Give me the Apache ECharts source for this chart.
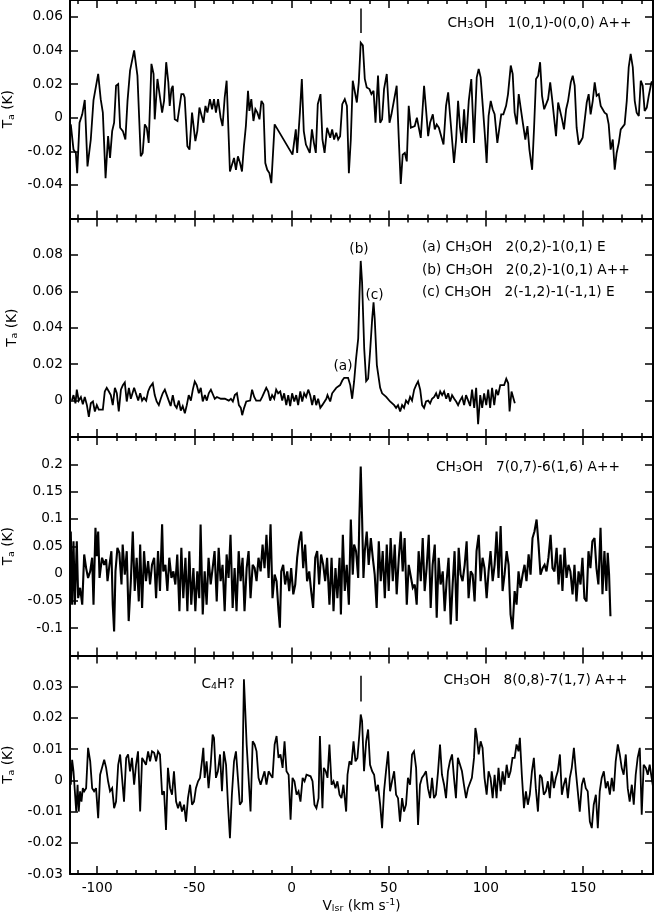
<!DOCTYPE html>
<html>
<head>
<meta charset="utf-8">
<script src="https://cdn.jsdelivr.net/npm/echarts@6.0.0/dist/echarts.min.js"></script>
<style>
html,body{margin:0;padding:0;background:#fff;}
#chart{width:654px;height:918px;}
</style>
</head>
<body>
<div id="chart"></div>
<script>
// ---------------- DATA ----------------
// Panel 1: CH3OH 1(0,1)-0(0,0) A++
const v1 = [-113.6,-112.2,-111.0,-110.3,-109.1,-107.7,-106.4,-105.0,-103.3,-101.9,-100.9,-99.5,-98.2,-97.1,-95.7,-94.4,-93.4,-92.3,-91.3,-90.3,
-89.2,-88.2,-86.8,-85.5,-84.4,-83.1,-82.1,-81.0,-80.3,-79.3,-77.6,-76.6,-75.5,-74.5,-73.5,-72.1,-71.0,-70.4,-69.0,-68.0,
-66.6,-65.6,-64.5,-63.4,-62.7,-61.8,-61.1,-60.1,-58.7,-57.7,-56.7,-55.6,-55.0,-53.6,-52.5,-51.2,-50.2,-49.5,-48.5,-47.4,
-46.4,-45.3,-44.3,-43.3,-42.0,-40.9,-39.9,-38.9,-37.8,-36.5,-35.5,-34.4,-33.4,-32.3,-31.7,-30.7,-29.6,-28.6,-27.6,-26.5,
-25.5,-24.5,-23.5,-22.4,-21.7,-20.7,-19.6,-18.6,-17.6,-16.5,-15.5,-14.5,-13.5,-12.5,-11.4,-10.4,-9.7,-8.7,0.5,1.5,
2.2,2.9,4.3,5.3,6.3,7.4,8.4,9.4,10.5,11.5,12.5,13.5,14.9,15.9,17.0,18.3,19.9,20.9,21.9,23.0,
24.0,25.0,26.1,27.4,28.5,29.5,30.5,31.5,32.2,33.6,34.6,35.6,36.7,37.7,38.7,40.1,41.1,42.2,43.2,44.5,
45.6,46.6,47.6,49.0,50.4,51.4,52.4,54.1,55.2,56.2,57.2,58.3,59.3,60.3,61.4,62.4,63.4,64.5,65.5,66.5,
68.2,69.2,70.3,71.3,72.7,73.7,74.7,75.8,76.8,78.2,79.5,80.6,81.6,82.6,83.6,84.7,85.7,86.7,87.7,88.8,
89.8,91.2,92.5,93.9,95.3,96.3,97.3,98.4,99.4,100.4,101.4,102.5,103.5,104.5,105.9,106.9,107.9,109.0,110.4,111.4,
112.8,113.8,114.8,115.9,116.9,117.9,119.0,120.3,121.4,122.4,123.8,124.8,125.8,126.9,127.9,128.9,130.0,131.0,132.0,133.1,
134.1,135.1,136.1,137.2,138.2,139.2,140.2,141.3,142.3,143.7,144.7,145.7,146.7,147.8,148.8,149.8,150.8,151.9,152.9,153.9,
155.0,156.0,157.0,158.1,159.1,160.1,161.1,162.2,163.2,164.2,165.3,166.3,167.3,168.4,169.4,170.4,171.4,172.5,173.5,174.5,
175.6,176.6,177.6,178.7,179.7,180.7,181.7,182.8,183.8,185.2,186.5];
const t1 = [-0.004,-0.019,-0.021,-0.033,-0.003,0.002,0.0105,-0.029,-0.013,0.0105,0.010,0.026,0.011,0.003,-0.036,-0.011,-0.024,-0.008,-0.003,0.019,
0.020,-0.006,-0.008,-0.013,0.010,0.028,0.028,0.040,0.039,0.025,-0.023,-0.021,-0.004,-0.006,-0.015,0.032,0.026,-0.001,0.023,0.022,
0.003,0.010,0.033,0.021,0.007,0.017,0.019,-0.001,-0.002,-0.003,0.014,0.014,0.012,-0.017,-0.019,0.003,0.004,-0.014,-0.008,0.006,
0.005,-0.003,0.007,0.003,0.011,0.005,0.011,0.003,0.011,0.000,-0.005,0.012,0.022,-0.013,-0.032,-0.033,-0.024,-0.031,-0.023,-0.027,
-0.032,-0.017,-0.005,0.016,0.004,0.011,-0.002,0.005,0.003,-0.001,0.010,0.008,-0.027,-0.031,-0.033,-0.039,-0.040,-0.004,-0.022,-0.023,
-0.007,-0.021,0.003,0.023,-0.008,-0.016,-0.017,-0.021,-0.007,-0.015,-0.021,0.008,0.014,-0.013,-0.021,-0.006,-0.012,-0.007,-0.013,-0.009,
-0.013,-0.011,0.008,0.011,0.007,-0.033,-0.013,0.022,0.021,0.009,0.021,0.0446,0.043,0.023,0.018,0.017,0.014,0.016,-0.003,0.025,
-0.003,-0.001,0.017,0.026,-0.003,0.002,0.001,0.019,-0.013,-0.0395,-0.022,-0.021,-0.026,0.007,-0.006,-0.007,-0.005,0.000,0.001,-0.012,
0.019,0.005,-0.011,-0.003,0.002,-0.007,-0.004,-0.006,-0.005,-0.016,0.007,0.015,0.001,-0.013,-0.027,-0.013,0.010,-0.006,-0.015,0.005,
-0.015,0.010,0.023,-0.015,0.024,0.029,0.024,0.007,-0.009,-0.027,0.001,0.010,0.005,0.002,-0.015,-0.016,0.002,0.002,0.007,0.014,
0.031,0.026,0.003,-0.004,0.014,0.013,-0.003,-0.013,-0.005,-0.019,-0.031,-0.006,0.023,0.025,0.033,0.013,0.005,0.005,0.011,0.021,
0.011,0.011,-0.011,0.009,0.010,-0.001,-0.007,0.005,0.010,0.021,0.025,0.019,-0.006,-0.016,-0.014,-0.012,-0.011,0.009,0.014,0.002,
0.010,0.021,0.013,0.014,0.007,0.005,0.003,0.002,-0.004,-0.019,-0.013,-0.031,-0.021,-0.015,-0.007,-0.006,-0.004,0.010,0.030,0.038,
0.030,0.010,0.003,0.001,0.022,0.019,0.004,0.006,0.013,0.021,0.022];

// Panel 2: CH3OH 2(0,2)-1(0,1) E / A++ / 2(-1,2)-1(-1,1) E
const v2 = [-113.0,-112.2,-111.2,-110.5,-109.5,-108.4,-107.4,-106.4,-105.3,-104.3,-103.3,-102.2,-101.2,-100.2,-99.2,-98.2,-97.1,-96.1,-95.1,-94.0,
-93.0,-92.0,-90.9,-89.9,-88.9,-87.8,-86.8,-85.8,-84.8,-83.7,-82.7,-81.7,-81.0,-80.0,-78.9,-77.9,-76.9,-75.9,-74.8,-73.8,
-72.8,-71.4,-70.4,-69.4,-68.3,-67.3,-66.3,-65.2,-64.2,-63.2,-62.2,-61.1,-60.1,-59.1,-58.0,-57.0,-56.0,-54.9,-53.9,-52.9,
-51.8,-50.8,-49.8,-48.8,-47.7,-46.7,-45.7,-44.6,-43.6,-42.6,-41.5,-40.5,-39.5,-38.4,-37.4,-36.4,-35.4,-34.3,-33.3,-32.3,
-31.2,-30.2,-29.2,-28.1,-27.1,-26.1,-25.4,-24.4,-23.3,-22.3,-21.3,-20.3,-19.2,-18.2,-17.2,-16.1,-15.1,-14.1,-13.0,-12.0,
-11.0,-10.0,-8.9,-7.9,-6.9,-5.8,-4.8,-3.8,-2.7,-1.7,-0.7,0.3,1.4,2.4,3.4,4.5,5.5,6.5,7.5,8.6,
9.6,10.6,11.7,12.7,13.7,14.8,15.8,16.8,17.9,
18.5,19.9,20.9,21.9,23.0,24.0,25.0,26.1,27.1,28.1,29.1,30.2,31.2,32.2,33.2,34.3,35.0,35.6,36.3,37.4,
38.4,39.4,40.4,41.5,42.2,42.8,43.9,44.9,45.6,46.6,47.6,48.7,49.7,50.7,51.7,52.8,53.8,54.8,55.9,56.9,
57.9,58.9,60.0,61.0,62.0,63.1,64.1,65.1,66.2,67.2,68.2,69.2,70.3,71.3,72.3,73.4,74.4,75.4,76.5,77.5,
78.5,79.6,80.6,81.6,82.6,83.7,84.7,85.7,86.7,87.8,88.8,89.8,90.9,91.9,92.9,94.0,95.0,96.0,97.1,98.1,
99.1,100.2,101.2,102.2,103.2,104.3,105.3,106.3,107.4,108.4,109.4,110.5,111.5,112.2,113.2,114.2,114.9];
const t2 = [0,0.003,-0.0015,0.006,0,0.002,-0.002,0.002,-0.0025,-0.009,-0.0015,-0.0005,-0.006,-0.0025,-0.005,-0.004,-0.005,0.005,0.007,0.005,
0.003,-0.0025,0.007,0.004,-0.006,0.006,0.0085,0.01,-0.0005,0.007,0.001,0,0.007,0.006,0,0.004,0,0.0015,0,0.005,
0.0075,0.0095,0.003,-0.0005,-0.0025,0.001,0.004,0.006,0.003,0,-0.003,0.003,-0.0025,-0.004,0,-0.0055,-0.003,-0.007,-0.0025,0.003,
0,0.006,0.0105,0.0085,0.004,0.007,-0.0005,0.003,0,0.004,0.006,0.007,0.001,0.002,0.001,0.001,0,0.001,0.002,0,
0.001,-0.0005,0.003,0.004,-0.0025,-0.004,-0.008,-0.004,-0.0005,0,0,0.006,0.002,0,0.001,0,0.002,0.003,0.007,0.005,
0,0.003,0.001,0.006,0.004,0.005,0,0.004,-0.0025,0.003,-0.003,0.004,-0.0005,0.003,-0.0025,0.005,-0.0005,0.004,0.002,0.006,
0.003,-0.0025,0.003,-0.0025,0.001,-0.004,-0.0025,-0.003,0.001,
0.003,-0.0005,0.004,0.003,0.007,0.006,0.0085,0.011,0.0125,0.012,0.0125,0.0085,0.001,0.0105,0.023,0.034,0.0595,0.0767,0.065,0.0285,
0.0107,0.012,0.0267,0.045,0.054,0.045,0.0195,0.0185,0.007,0.004,0.005,0.002,0.001,-0.0005,0,-0.0025,-0.004,-0.0025,-0.006,-0.0025,
-0.004,0,-0.0015,0.002,0,0.006,0.0085,0.0105,0.006,-0.0025,-0.004,-0.0005,0,-0.0015,0.001,0.002,0.004,0.001,0.005,0.003,
0.005,0.001,0.004,-0.0005,0.003,0.001,-0.0005,-0.0025,0,0.002,-0.0025,0.003,0,-0.003,0.006,-0.004,0.007,-0.013,0.003,-0.004,
0.004,-0.0025,0.006,-0.004,0.007,-0.0025,0.006,0.003,0.0085,0.0095,0.0085,0.012,0.0095,-0.006,0.005,0.004,-0.0015];

// Panel 3: CH3OH 7(0,7)-6(1,6) A++
const v3 = [-113.6,-112.9,-112.2,-111.5,-110.5,-109.8,-108.8,-107.7,-106.7,-105.7,-104.7,-103.6,-102.6,-101.9,-100.9,-100.2,-99.5,-98.8,-98.2,-97.5,
-96.4,-95.4,-94.7,-93.7,-92.7,-92.0,-91.3,-90.6,-89.6,-88.6,-87.5,-86.9,-85.8,-84.8,-83.8,-82.7,-81.7,-80.7,-79.7,-78.6,
-77.9,-76.9,-75.9,-74.9,-73.8,-72.8,-71.8,-70.7,-69.7,-68.7,-67.7,-66.6,-66.0,-64.9,-63.9,-62.9,-61.8,-60.8,-59.8,-58.8,
-57.7,-56.7,-55.7,-54.6,-53.6,-52.6,-51.6,-50.5,-49.5,-48.5,-47.5,-46.8,-45.7,-44.7,-43.7,-42.7,-41.6,-40.6,-39.6,-38.5,
-37.5,-36.5,-35.5,-34.4,-33.4,-32.4,-31.4,-30.3,-29.3,-28.3,-27.2,-26.2,-25.2,-24.2,-23.1,-22.1,-21.1,-20.0,-19.0,-18.0,
-17.0,-15.9,-14.9,-13.9,-12.9,-11.8,-10.8,-9.8,-8.7,-7.7,-6.7,-6.0,-5.3,-4.3,-3.3,-2.2,-1.2,-0.2,0.9,1.9,
2.9,3.9,5.0,6.0,7.0,8.0,9.1,10.1,11.1,12.2,13.2,14.2,15.2,16.3,17.3,18.3,
19.5,20.6,21.6,22.6,23.6,24.7,25.4,26.4,27.4,28.4,29.5,30.5,31.5,32.2,33.2,34.3,34.9,35.6,36.3,37.0,
37.7,38.7,39.7,40.8,41.8,42.8,43.8,44.9,45.9,46.9,48.0,49.0,50.0,51.0,52.1,53.1,54.1,55.2,56.2,57.2,
58.2,59.3,60.3,61.3,62.4,63.4,64.4,65.4,66.5,67.5,68.5,69.5,70.6,71.6,72.6,73.7,74.7,75.7,76.7,77.8,
78.8,79.8,80.8,81.9,82.9,83.9,85.0,86.0,87.0,88.0,89.1,90.1,91.1,92.2,93.2,94.2,95.2,96.3,97.3,98.3,
99.3,100.4,101.4,102.4,103.5,104.5,105.5,106.5,107.6,108.6,109.6,110.7,111.7,112.7,113.7,114.8,115.8,116.8,117.8,118.9,
119.9,120.9,122.0,123.0,124.0,125.0,126.1,127.1,128.1,129.2,130.2,131.2,132.2,133.3,134.3,135.3,136.4,137.4,138.4,139.4,
140.5,141.5,142.5,143.5,144.6,145.6,146.6,147.7,148.7,149.7,150.7,151.8,152.8,153.8,154.8,155.9,156.9,157.9,159.0,160.0,
161.0,162.0,162.7,163.4,164.1];
const t3 = [0.077,-0.057,0.059,-0.057,0.059,-0.045,-0.026,-0.057,0.035,0.010,-0.008,0.004,0.029,-0.057,0.084,0.032,0.077,-0.008,0.010,0.029,
0.016,0.026,-0.014,0.016,0.041,-0.057,-0.106,0.004,0.047,0.038,-0.020,0.053,-0.002,0.041,-0.087,-0.014,0.077,-0.032,0.029,-0.051,
0.053,-0.063,0.041,-0.014,0.023,-0.020,0.016,0.029,-0.045,0.041,-0.032,0.090,0.004,0.016,-0.032,0.029,-0.008,0.004,-0.020,0.035,
-0.069,0.047,-0.045,0.029,-0.069,0.041,-0.057,0.010,-0.069,0.004,-0.045,0.090,-0.075,0.004,-0.057,0.029,-0.020,0.010,0.041,-0.051,
0.047,-0.014,0.016,-0.069,0.035,-0.008,0.071,-0.063,0.010,-0.069,0.041,-0.014,0.029,-0.069,0.010,0.041,-0.045,0.016,0.010,-0.014,
0.029,0.004,0.053,0.010,0.071,-0.008,0.090,-0.045,-0.002,-0.014,-0.069,-0.099,0.004,0.016,-0.020,0.004,-0.032,0.010,-0.038,-0.020,
0.029,0.059,0.077,0.010,0.053,-0.014,0.004,-0.032,-0.063,0.029,0.041,-0.020,0.035,0.016,-0.014,0.029,
-0.057,0.029,-0.069,0.010,-0.045,0.029,-0.075,0.071,-0.032,0.016,-0.057,0.099,-0.002,0.053,0.041,-0.008,0.102,0.196,0.102,-0.008,
0.041,0.077,0.016,0.065,0.029,-0.002,-0.063,0.059,-0.014,0.041,-0.045,0.053,-0.032,0.065,-0.014,0.053,-0.038,0.029,0.077,0.004,
0.065,-0.057,0.016,0.016,-0.026,-0.020,-0.057,0.041,-0.014,0.065,-0.032,0.010,0.071,-0.063,0.016,0.053,-0.081,0.029,-0.020,0.004,
-0.069,-0.014,0.029,-0.093,-0.020,0.041,-0.087,0.047,-0.002,-0.014,0.016,0.059,-0.045,0.004,-0.002,-0.051,0.041,0.071,-0.014,0.029,
0.010,-0.045,0.004,0.041,-0.014,0.016,0.077,-0.008,0.087,-0.032,-0.002,0.041,0.016,-0.075,-0.102,-0.032,-0.057,0.004,-0.026,-0.002,
0.016,-0.014,0.035,-0.002,0.065,0.077,0.099,0.053,-0.002,0.010,0.016,0.004,0.029,0.071,0.010,0.004,0.047,-0.020,0.035,-0.032,
0.047,-0.008,0.016,0.004,-0.038,0.016,-0.051,0.004,-0.020,0.029,-0.045,-0.051,0.041,0.010,0.059,0.065,0.010,-0.020,0.084,-0.038,
0.041,-0.032,0.038,-0.002,-0.078];

// Panel 4: CH3OH 8(0,8)-7(1,7) A++
const v4 = [-113.6,-112.9,-112.2,-111.5,-110.8,-110.1,-109.5,-108.8,-108.1,-107.4,-106.7,-105.7,-104.7,-103.6,-102.6,-101.6,-100.6,-99.5,-98.5,-97.5,
-96.4,-95.4,-94.4,-93.4,-92.3,-91.3,-90.3,-89.2,-88.2,-87.2,-86.2,-85.1,-84.1,-83.1,-82.1,-81.0,-80.0,-79.0,-77.9,-76.9,
-75.9,-74.9,-73.8,-72.8,-71.8,-70.7,-69.7,-68.7,-67.7,-66.6,-65.6,-64.6,-63.6,-62.5,-61.5,-60.5,-59.4,-58.4,-57.4,-56.4,
-55.3,-54.3,-53.3,-52.2,-51.2,-50.2,-49.2,-48.1,-47.1,-46.1,-45.4,-44.7,-43.7,-42.7,-41.6,-40.6,-39.9,-38.9,-37.9,-36.8,
-35.8,-34.8,-33.7,-32.7,-31.7,-30.7,-29.6,-28.6,-27.6,-26.6,-25.5,-24.5,-23.8,-23.1,-22.1,-21.1,-20.0,-19.0,-18.0,-17.0,
-15.9,-14.9,-13.9,-12.9,-11.8,-10.8,-9.8,-8.7,-7.7,-6.7,-5.7,-4.6,-3.6,-2.6,-1.5,-0.5,0.5,1.5,2.6,3.6,
4.6,5.7,6.7,7.7,8.7,9.8,10.8,11.8,12.8,13.9,14.6,15.2,15.9,16.6,17.6,
18.5,19.5,20.6,21.6,22.6,23.6,24.7,25.7,26.7,28.1,28.8,29.8,30.8,31.9,32.9,33.9,34.9,35.6,36.3,37.3,
38.4,39.4,40.4,41.5,42.5,43.5,44.5,45.6,46.6,47.6,48.6,49.7,50.7,51.7,52.8,53.8,54.8,55.8,56.9,57.9,
58.9,59.9,61.0,62.0,63.0,64.1,65.1,66.1,67.1,68.2,69.2,70.2,71.3,72.3,73.3,74.3,75.4,76.4,77.4,78.5,
79.5,80.5,81.5,82.6,83.6,84.6,85.6,86.7,87.7,88.7,89.8,90.8,91.8,92.8,93.9,94.6,95.2,96.3,97.3,98.3,
99.3,100.4,101.4,102.4,103.5,104.5,105.5,106.5,107.6,108.6,109.6,110.7,111.7,112.7,113.7,114.8,115.8,116.8,117.5,118.5,
119.6,120.6,121.6,122.6,123.7,124.7,125.7,126.8,127.8,128.8,129.8,130.9,131.9,132.9,133.9,135.0,136.0,137.0,138.1,139.1,
140.1,141.1,142.2,143.2,144.2,145.3,146.3,147.3,148.3,149.4,150.4,151.4,152.4,153.5,154.5,155.5,156.6,157.6,158.6,159.6,
160.7,161.7,162.7,163.8,164.8,165.8,166.8,167.9,168.9,169.9,170.9,172.0,173.0,174.0,175.1,176.1,177.1,178.1,179.2,180.2,
181.2,182.3,183.3,184.3,185.3,186.4];
const t4 = [-0.0014,0.0066,0.0029,-0.0035,-0.0100,-0.0014,-0.0100,-0.0035,-0.0068,-0.0025,-0.0035,-0.0025,0.0104,0.0061,-0.0025,-0.0035,-0.0025,-0.0121,0.0018,0.0024,
0.0066,0.0040,-0.0003,-0.0035,-0.0025,-0.0089,-0.0068,0.0050,0.0083,0.0088,-0.0068,0.0072,0.0083,0.0029,0.0072,-0.0014,0.0050,0.0093,-0.0100,0.0072,
0.0061,0.0050,0.0093,0.0061,0.0093,0.0088,0.0061,0.0093,0.0083,-0.0046,-0.0035,-0.0159,0.0040,-0.0025,-0.0046,0.0029,-0.0068,-0.0089,-0.0068,-0.0100,
-0.0078,-0.0132,-0.0057,-0.0014,-0.0078,-0.0068,-0.0025,-0.0003,0.0008,0.0061,0.0104,0.0008,0.0061,-0.0025,0.0050,0.0147,0.0136,0.0008,0.0029,0.0083,
-0.0035,0.0093,0.0050,-0.0078,-0.0185,-0.0046,0.0061,0.0093,0.0008,-0.0078,-0.0068,0.0324,0.0222,0.0115,0.0115,-0.0100,0.0125,0.0115,0.0093,0.0008,
-0.0014,0.0008,0.0029,-0.0014,0.0029,0.0018,0.0008,0.0115,0.0142,0.0072,0.0083,0.0040,0.0125,0.0029,0.0018,-0.0126,0.0008,-0.0003,-0.0046,-0.0035,
-0.0068,0.0008,-0.0003,0.0018,0.0018,0.0013,-0.0003,-0.0078,-0.0089,-0.0057,0.0142,0.0029,-0.0089,0.0040,0.0029,
0.0008,0.0115,-0.0014,-0.0003,-0.0025,-0.0003,-0.0046,-0.0057,-0.0014,-0.0100,0.0018,0.0061,0.0050,0.0125,0.0061,0.0072,0.0147,0.0211,0.0190,0.0029,
0.0125,0.0163,0.0050,0.0029,0.0018,-0.0035,-0.0014,-0.0078,-0.0153,-0.0035,0.0029,0.0093,-0.0035,-0.0003,0.0029,-0.0046,-0.0057,-0.0132,-0.0057,-0.0100,
-0.0078,0.0008,-0.0014,0.0083,0.0093,0.0040,-0.0143,-0.0014,0.0008,0.0018,0.0029,-0.0025,-0.0057,0.0008,-0.0057,-0.0046,0.0029,0.0115,0.0018,-0.0014,
-0.0057,0.0029,0.0061,0.0083,0.0008,-0.0057,0.0072,0.0050,0.0029,-0.0014,-0.0057,-0.0025,-0.0025,0.0008,0.0072,0.0168,0.0147,0.0083,0.0125,0.0104,
0.0008,-0.0046,0.0029,0.0008,-0.0057,0.0018,-0.0057,0.0040,-0.0035,0.0029,-0.0014,0.0050,0.0008,0.0029,0.0072,0.0072,0.0115,0.0093,0.0136,0.0018,
-0.0089,-0.0035,-0.0078,-0.0046,0.0029,0.0072,-0.0025,-0.0100,0.0018,0.0008,-0.0046,-0.0035,-0.0003,-0.0057,0.0029,-0.0025,0.0008,0.0029,0.0083,-0.0046,
-0.0014,0.0008,-0.0057,0.0008,0.0040,0.0104,0.0029,0.0029,-0.0100,-0.0014,0.0008,-0.0025,-0.0035,-0.0132,-0.0153,-0.0078,-0.0046,-0.0153,-0.0035,0.0008,
0.0029,-0.0025,-0.0003,-0.0046,0.0008,-0.0035,0.0061,0.0115,0.0083,0.0040,0.0018,0.0083,-0.0025,-0.0068,-0.0014,-0.0078,0.0018,0.0072,0.0104,-0.0110,
0.0050,0.0040,0.0018,0.0050,0.0008,-0.0035];

// Tick values
const xMajorTicks = [-100, -50, 0, 50, 100, 150];
const xMinorTicks = [-110,-90,-80,-70,-60,-40,-30,-20,-10,10,20,30,40,60,70,80,90,110,120,130,140,160,170,180];
const yTicks1 = [-0.04, -0.02, 0, 0.02, 0.04, 0.06];
const yTicks2 = [0, 0.02, 0.04, 0.06, 0.08];
const yTicks3 = [-0.1, -0.05, 0, 0.05, 0.1, 0.15, 0.2];
const yTicks4 = [-0.03, -0.02, -0.01, 0, 0.01, 0.02, 0.03];
const yRanges = [[-0.06, 0.07], [-0.02, 0.1], [-0.15, 0.25], [-0.03, 0.04]];
const xRange = [-114, 186];
const lineMarkerV = 35.6;
const marker1 = [0.065, 0.0504];
const marker4 = [0.0335, 0.0253];

// --------------- CHART ----------------
const pairs = [[v1,t1],[v2,t2],[v3,t3],[v4,t4]];
pairs.forEach((p, i) => { if (p[0].length !== p[1].length) throw new Error('length mismatch panel ' + (i+1) + ': ' + p[0].length + ' vs ' + p[1].length); });
const yTicks = [yTicks1, yTicks2, yTicks3, yTicks4];
const lineWidths = [1.8, 1.8, 2.1, 1.8];

const FONT = 'DejaVu Sans';
const FS = 13.7;
const BLACK = '#000';
const richBase = {
  t: { fontFamily: FONT, fontSize: FS, color: BLACK, fill: BLACK, lineHeight: 16 },
  s: { fontFamily: FONT, fontSize: 9.5, color: BLACK, fill: BLACK, lineHeight: 6, verticalAlign: 'bottom' },
  p: { fontFamily: FONT, fontSize: 9.5, color: BLACK, fill: BLACK, lineHeight: 6, verticalAlign: 'top' }
};

const GRID_TOP = [0, 218.5, 437, 655.5];
const GRID_H = 218.5;
const grids = GRID_TOP.map(t => ({ left: 70, width: 583, top: t, height: GRID_H, outerBoundsMode: 'none', containLabel: false }));

const xAxes = [];
const yAxes = [];
for (let i = 0; i < 4; i++) {
  const mk = (pos, ticks, len, showLine, showLabel) => ({
    type: 'value', gridIndex: i, position: pos, min: xRange[0], max: xRange[1],
    axisLine: { show: showLine, onZero: false, lineStyle: { color: BLACK, width: 2 } },
    axisTick: { show: true, inside: true, length: len, customValues: ticks, lineStyle: { color: BLACK, width: 1.5 } },
    axisLabel: showLabel ? { show: true, customValues: xMajorTicks, margin: 7, fontFamily: FONT, fontSize: FS, color: BLACK } : { show: false },
    splitLine: { show: false },
    name: (showLabel ? '{t|V}{s|lsr}{t| (km s}{p|-1}{t|)}' : ''),
    nameLocation: 'middle', nameGap: 24,
    nameTextStyle: { rich: richBase }
  });
  xAxes.push(mk('bottom', xMajorTicks, 8, true, i === 3));
  xAxes.push(mk('bottom', xMinorTicks, 4, false, false));
  xAxes.push(mk('top', xMajorTicks, 8, true, false));
  xAxes.push(mk('top', xMinorTicks, 4, false, false));

  yAxes.push({
    type: 'value', gridIndex: i, position: 'left', min: yRanges[i][0], max: yRanges[i][1],
    axisLine: { show: true, onZero: false, lineStyle: { color: BLACK, width: 2 } },
    axisTick: { show: true, inside: true, length: 8, customValues: yTicks[i], lineStyle: { color: BLACK, width: 1.5 } },
    axisLabel: { show: true, customValues: yTicks[i], margin: 7, fontFamily: FONT, fontSize: FS, color: BLACK,
      formatter: v => String(+(+v).toFixed(4)) },
    splitLine: { show: false },
    name: '{t|T}{s|a}{t| (K)}', nameLocation: 'middle', nameGap: 50, nameRotate: 90,
    nameTextStyle: { rich: richBase }
  });
  yAxes.push({
    type: 'value', gridIndex: i, position: 'right', min: yRanges[i][0], max: yRanges[i][1],
    axisLine: { show: true, onZero: false, lineStyle: { color: BLACK, width: 2 } },
    axisTick: { show: true, inside: true, length: 8, customValues: yTicks[i], lineStyle: { color: BLACK, width: 1.5 } },
    axisLabel: { show: false },
    splitLine: { show: false }
  });
}

const series = pairs.map((p, i) => {
  const s = {
    type: 'line', xAxisIndex: i * 4, yAxisIndex: i * 2,
    data: p[0].map((v, k) => [v, p[1][k]]),
    showSymbol: false, symbol: 'none', clip: true,
    lineStyle: { color: BLACK, width: lineWidths[i], join: 'miter', miterLimit: 3 },
    animation: false, silent: true
  };
  const mkr = i === 0 ? marker1 : (i === 3 ? marker4 : null);
  if (mkr) {
    s.markLine = {
      silent: true, symbol: 'none', animation: false,
      label: { show: false },
      lineStyle: { color: BLACK, width: 1.5, type: 'solid' },
      data: [[{ coord: [lineMarkerV, mkr[0]] }, { coord: [lineMarkerV, mkr[1]] }]]
    };
  }
  return s;
});

const txt = (x, y, text, align) => ({
  type: 'text', x: x, y: y, silent: true,
  style: { text: text, align: align || 'left', verticalAlign: 'middle', rich: richBase,
    fontFamily: FONT, fontSize: FS, fill: BLACK }
});

const graphics = [
  txt(447.5, 23, '{t|CH}{s|3}{t|OH   1(0,1)-0(0,0) A++}'),
  txt(422, 247, '{t|(a) CH}{s|3}{t|OH   2(0,2)-1(0,1) E}'),
  txt(422, 270, '{t|(b) CH}{s|3}{t|OH   2(0,2)-1(0,1) A++}'),
  txt(422, 292, '{t|(c) CH}{s|3}{t|OH   2(-1,2)-1(-1,1) E}'),
  txt(359, 249, '{t|(b)}', 'center'),
  txt(374.5, 295, '{t|(c)}', 'center'),
  txt(343, 366, '{t|(a)}', 'center'),
  txt(436, 467, '{t|CH}{s|3}{t|OH   7(0,7)-6(1,6) A++}'),
  txt(443.5, 680, '{t|CH}{s|3}{t|OH   8(0,8)-7(1,7) A++}'),
  txt(201.5, 684, '{t|C}{s|4}{t|H?}')
];

const chart = echarts.init(document.getElementById('chart'), null, { renderer: 'canvas', width: 654, height: 918 });
chart.setOption({
  animation: false,
  backgroundColor: '#fff',
  textStyle: { fontFamily: FONT },
  grid: grids,
  xAxis: xAxes,
  yAxis: yAxes,
  series: series,
  graphic: graphics
});
</script>
</body>
</html>
